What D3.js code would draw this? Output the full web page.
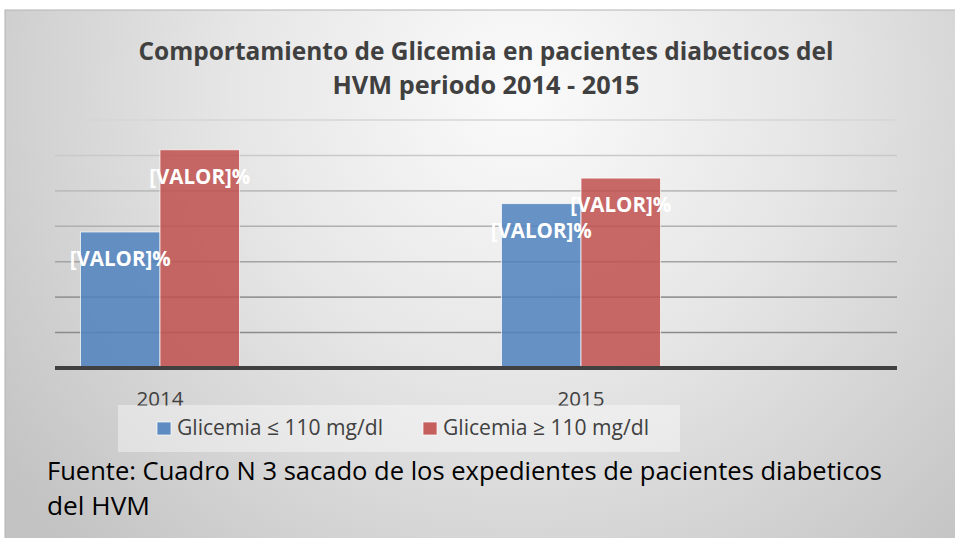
<!DOCTYPE html>
<html>
<head>
<meta charset="utf-8">
<script src="https://cdn.jsdelivr.net/npm/d3@7"></script>
<style>
  html, body { margin: 0; padding: 0; background: #fff; }
  svg { display: block; font-family: "Open Sans", "DejaVu Sans", sans-serif; }
</style>
</head>
<body>
<div id="chart"></div>
<script>
// datos del grafico
const years = ['2014', '2015'];
const series = ['Glicemia ≤ 110 mg/dl', 'Glicemia ≥ 110 mg/dl'];
const lowValues = [38.4, 46.4];
const highValues = [61.6, 53.6];
const yTicks = [10, 20, 30, 40, 50, 60, 70];
const titleLines = ['Comportamiento de Glicemia en pacientes diabeticos del', 'HVM periodo 2014 - 2015'];
const sourceLines = ['Fuente: Cuadro N 3 sacado de los expedientes de pacientes diabeticos', 'del HVM'];

const width = 955;
const height = 538;
const colors = ['#4f81bd', '#c0504d'];

const svg = d3.select('#chart').append('svg')
  .attr('width', width)
  .attr('height', height);

const defs = svg.append('defs');
const bg = defs.append('radialGradient')
  .attr('id', 'bg')
  .attr('gradientUnits', 'userSpaceOnUse')
  .attr('cx', 520).attr('cy', 90).attr('r', 640);
bg.append('stop').attr('offset', 0).attr('stop-color', '#fbfbfb');
bg.append('stop').attr('offset', 0.45).attr('stop-color', '#e6e6e6');
bg.append('stop').attr('offset', 1).attr('stop-color', '#c3c3c3');

// fondo
svg.append('rect')
  .attr('x', 5).attr('y', 10)
  .attr('width', width).attr('height', height)
  .attr('fill', 'url(#bg)')
  .attr('stroke', '#b3b3b3');

const y = d3.scaleLinear().domain([0, 70]).range([368, 120]);
const x0 = d3.scaleBand().domain(years).range([55, 897]);
const x1 = d3.scaleBand().domain(series).range([25.5, 184.5]);
const gridColor = d3.scaleLinear().domain([10, 70]).range(['#8a8a8a', '#d6d6d6']).interpolate(d3.interpolateRgb);

// lineas de la grilla
svg.append('g').attr('class', 'grid')
  .selectAll('line')
  .data(yTicks)
  .enter().append('line')
  .attr('x1', 55).attr('x2', 897)
  .attr('y1', (d) => { return y(d); })
  .attr('y2', (d) => { return y(d); })
  .attr('stroke', (d) => { return gridColor(d); })
  .attr('stroke-width', 1.6);

// barras
const rows = years.map((yr, i) => {
  return { year: yr, values: [lowValues[i], highValues[i]] };
});

const groups = svg.append('g').attr('class', 'bars')
  .selectAll('g')
  .data(rows)
  .enter().append('g')
  .attr('transform', (d) => { return 'translate(' + x0(d.year) + ',0)'; });

groups.selectAll('rect')
  .data((d) => { return d.values.map((v, j) => { return { s: series[j], v: v, j: j }; }); })
  .enter().append('rect')
  .attr('x', (d) => { return x1(d.s); })
  .attr('width', x1.bandwidth())
  .attr('y', (d) => { return y(d.v); })
  .attr('height', (d) => { return y(0) - y(d.v); })
  .attr('fill', (d) => { return colors[d.j]; })
  .attr('fill-opacity', 0.85)
  .attr('stroke', 'rgba(255,255,255,0.7)')
  .attr('stroke-width', 1);

groups.selectAll('text')
  .data((d) => { return d.values.map((v, j) => { return { s: series[j], v: v, j: j }; }); })
  .enter().append('text')
  .attr('x', (d) => { return x1(d.s) + x1.bandwidth() / 2; })
  .attr('y', (d) => { return y(d.v) + 34; })
  .attr('text-anchor', 'middle')
  .attr('fill', '#fff')
  .attr('font-weight', 'bold')
  .attr('font-size', 21)
  .attr('textLength', 101)
  .attr('lengthAdjust', 'spacingAndGlyphs')
  .text('[VALOR]%');

// eje x
svg.append('line')
  .attr('x1', 55).attr('x2', 897)
  .attr('y1', y(0)).attr('y2', y(0))
  .attr('stroke', '#404040')
  .attr('stroke-width', 4);

svg.append('g').attr('class', 'xlabels')
  .selectAll('text')
  .data(years)
  .enter().append('text')
  .attr('x', (d) => { return x0(d) + (x1.range()[0] + x1.range()[1]) / 2; })
  .attr('y', 406)
  .attr('text-anchor', 'middle')
  .attr('fill', '#404040')
  .attr('font-size', 20)
  .attr('textLength', 47)
  .attr('lengthAdjust', 'spacingAndGlyphs')
  .text((d) => { return d; });

// leyenda
const legend = svg.append('g').attr('class', 'legend');
legend.append('rect')
  .attr('x', 118).attr('y', 405)
  .attr('width', 562).attr('height', 47)
  .attr('fill', '#fff')
  .attr('fill-opacity', 0.4);

const legendX = [157, 423];
const items = legend.selectAll('g')
  .data(series)
  .enter().append('g')
  .attr('transform', (d, i) => { return 'translate(' + legendX[i] + ',0)'; });
items.append('rect')
  .attr('x', 0).attr('y', 422)
  .attr('width', 14).attr('height', 13)
  .attr('fill', (d, i) => { return colors[i]; })
  .attr('fill-opacity', 0.9)
  .attr('stroke', 'rgba(255,255,255,0.7)');
items.append('text')
  .attr('x', 20).attr('y', 435)
  .attr('fill', '#404040')
  .attr('font-size', 21)
  .attr('textLength', 206)
  .attr('lengthAdjust', 'spacingAndGlyphs')
  .text((d) => { return d; });

// titulo
const titleWidths = [695, 307];
svg.append('g').attr('class', 'title')
  .selectAll('text')
  .data(titleLines)
  .enter().append('text')
  .attr('x', 486)
  .attr('y', (d, i) => { return 60 + i * 34; })
  .attr('text-anchor', 'middle')
  .attr('fill', '#404040')
  .attr('font-weight', 'bold')
  .attr('font-size', 25)
  .attr('textLength', (d, i) => { return titleWidths[i]; })
  .attr('lengthAdjust', 'spacingAndGlyphs')
  .text((d) => { return d; });

// fuente
const sourceWidths = [835, 103];
svg.append('g').attr('class', 'source')
  .selectAll('text')
  .data(sourceLines)
  .enter().append('text')
  .attr('x', 47)
  .attr('y', (d, i) => { return 480 + i * 35; })
  .attr('fill', '#000')
  .attr('font-size', 26)
  .attr('textLength', (d, i) => { return sourceWidths[i]; })
  .attr('lengthAdjust', 'spacingAndGlyphs')
  .text((d) => { return d; });
</script>
</body>
</html>
